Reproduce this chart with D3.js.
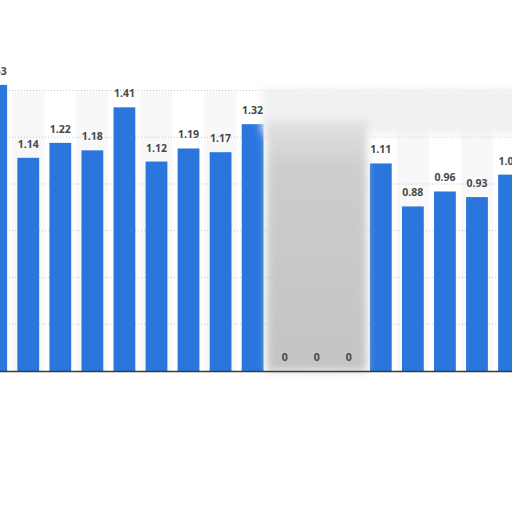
<!DOCTYPE html>
<html>
<head>
<meta charset="utf-8">
<script src="https://cdn.jsdelivr.net/npm/d3@7"></script>
<style>
  html, body { margin: 0; padding: 0; background: #fff; }
  svg { display: block; }
</style>
</head>
<body>
<svg id="chart" width="512" height="512"></svg>
<script>
// periods (axis labels are cut off in the picture, so these are placeholders)
var periods = ["p1","p2","p3","p4","p5","p6","p7","p8","p9","p10","p11","p12","p13","p14","p15","p16","p17"]
var values = [1.53, 1.14, 1.22, 1.18, 1.41, 1.12, 1.19, 1.17, 1.32, 0, 0, 0, 1.11, 0.88, 0.96, 0.93, 1.05]
var grid_ticks = [0.25, 0.5, 0.75, 1, 1.25, 1.5]

var width = 512
var height = 512
var base_y = 371
var top_y = 90.5

var svg = d3.select("#chart")

var defs = svg.append("defs")
defs.append("filter").attr("id", "blur_big")
    .attr("x", "-20%").attr("y", "-20%").attr("width", "140%").attr("height", "140%")
  .append("feGaussianBlur").attr("stdDeviation", 4)
defs.append("filter").attr("id", "blur_small")
    .attr("x", "-20%").attr("y", "-200%").attr("width", "140%").attr("height", "500%")
  .append("feGaussianBlur").attr("stdDeviation", 1.5)
var grad = defs.append("linearGradient").attr("id", "mask_fill")
    .attr("x1", 0).attr("x2", 0).attr("y1", 0).attr("y2", 1)
grad.append("stop").attr("offset", "0%").attr("stop-color", "#e2e2e2")
grad.append("stop").attr("offset", "20%").attr("stop-color", "#cdcdcd")
grad.append("stop").attr("offset", "100%").attr("stop-color", "#c4c4c4")

var x = d3.scaleBand()
    .domain(periods)
    .range([-19.8, 525.05])
    .paddingInner(0.32)
    .paddingOuter(0.16)

var y = d3.scaleLinear()
    .domain([0, 1.5])
    .range([base_y, top_y])

var step = x.step()
var pad = x.bandwidth() * 0.16 / 0.68

// alternate column bands
svg.append("g").selectAll("rect")
    .data(periods.filter(function(d, i) { return i % 2 == 1 }))
  .enter().append("rect")
    .attr("x", function(d) { return x(d) - (step - x.bandwidth()) / 2 })
    .attr("y", y(1.5))
    .attr("width", step)
    .attr("height", base_y - y(1.5))
    .attr("fill", "#f8f8f8")

// dotted grid
svg.append("g").selectAll("line")
    .data(grid_ticks)
  .enter().append("line")
    .attr("x1", 0)
    .attr("x2", width)
    .attr("y1", function(d) { return y(d) })
    .attr("y2", function(d) { return y(d) })
    .attr("stroke", "#c9c9c9")
    .attr("stroke-width", 1)
    .attr("stroke-dasharray", "1,2")

// top edge of the card, slightly shaded
svg.append("line")
    .attr("x1", 0).attr("x2", 250)
    .attr("y1", y(1.5)).attr("y2", y(1.5))
    .attr("stroke", "#bdbdbd")
    .attr("stroke-width", 1.5)
    .attr("filter", "url(#blur_small)")

// bars
svg.append("g").selectAll("rect")
    .data(values)
  .enter().append("rect")
    .attr("x", function(d, i) { return x(periods[i]) })
    .attr("y", function(d) { return y(d) })
    .attr("width", x.bandwidth())
    .attr("height", function(d) { return base_y - y(d) })
    .attr("fill", "#2a76dc")

// blurred masked area
svg.append("rect")
    .attr("x", 262).attr("y", 88)
    .attr("width", 260).attr("height", 46)
    .attr("fill", "#f1f1f1")
    .attr("filter", "url(#blur_big)")
svg.append("line")
    .attr("x1", 266).attr("x2", 512)
    .attr("y1", 136).attr("y2", 136)
    .attr("stroke", "#c8c8c8")
    .attr("stroke-width", 2)
    .attr("filter", "url(#blur_small)")
svg.append("rect")
    .attr("x", x(periods[9]) - pad * 1.4)
    .attr("y", 120)
    .attr("width", x(periods[11]) + x.bandwidth() - x(periods[9]) + pad * 2.8)
    .attr("height", base_y - 120)
    .attr("fill", "url(#mask_fill)")
    .attr("filter", "url(#blur_big)")

// baseline with a soft shadow
svg.append("line")
    .attr("x1", 0).attr("x2", width)
    .attr("y1", base_y + 4).attr("y2", base_y + 4)
    .attr("stroke", "#bbbbbb")
    .attr("stroke-width", 3)
    .attr("filter", "url(#blur_small)")
svg.append("line")
    .attr("x1", 0).attr("x2", width)
    .attr("y1", base_y + 0.5).attr("y2", base_y + 0.5)
    .attr("stroke", "#3a3a3a")
    .attr("stroke-width", 1.5)

// value labels
svg.append("g").selectAll("text")
    .data(values)
  .enter().append("text")
    .attr("x", function(d, i) { return x(periods[i]) + x.bandwidth() / 2 })
    .attr("y", function(d) { return y(d) - 10 })
    .attr("text-anchor", "middle")
    .attr("font-family", "'Open Sans', sans-serif")
    .attr("font-weight", "bold")
    .attr("font-size", 10.5)
    .attr("fill", "#484848")
    .text(function(d) { return "" + d + "" })
</script>
</body>
</html>
